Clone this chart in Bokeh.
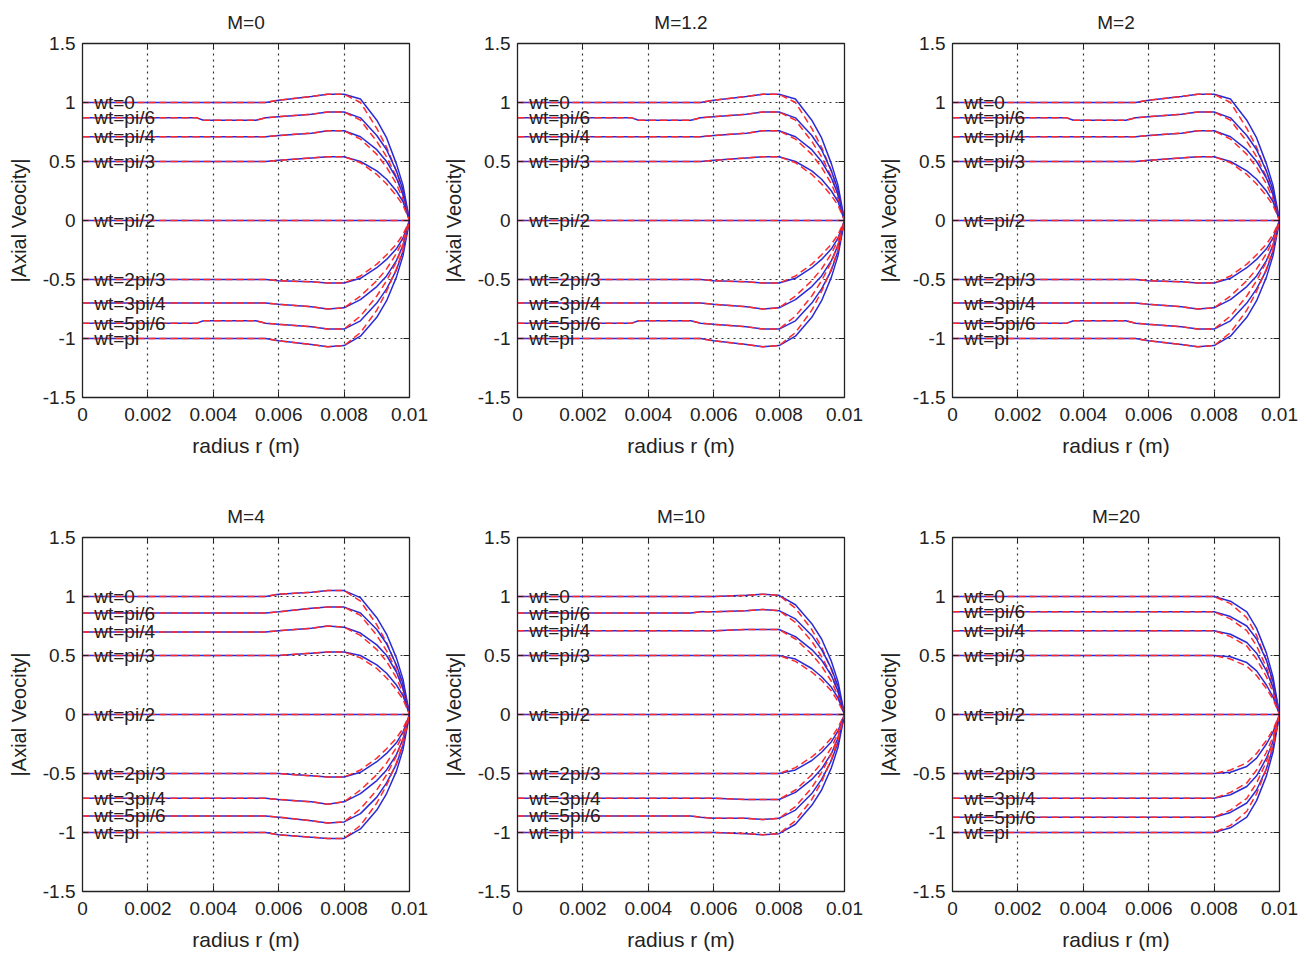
from bokeh.plotting import figure
from bokeh.models import ColumnDataSource, FixedTicker, LinearAxis, Range1d
from bokeh.layouts import column, row
from bokeh.core.properties import value
from bokeh.embed import file_html
from bokeh.resources import INLINE

# ---------------- data ----------------
R = [0, 0.0035, 0.0037, 0.0053, 0.0056, 0.006, 0.007, 0.0075, 0.008,
     0.0085, 0.009, 0.0093, 0.0096, 0.0098, 0.01]
R_TAIL = [0.0085, 0.009, 0.0093, 0.0096, 0.0098]   # where red dashed departs from blue

WT_LABELS = ["wt=0", "wt=pi/6", "wt=pi/4", "wt=pi/3", "wt=pi/2",
             "wt=2pi/3", "wt=3pi/4", "wt=5pi/6", "wt=pi"]
TITLES = ["M=0", "M=1.2", "M=2", "M=4", "M=10", "M=20"]
X_TICKS = [0, 0.002, 0.004, 0.006, 0.008, 0.01]
X_TICK_LABELS = ["0", "0.002", "0.004", "0.006", "0.008", "0.01"]
Y_TICKS = [-1.5, -1, -0.5, 0, 0.5, 1, 1.5]
Y_TICK_LABELS = ["-1.5", "-1", "-0.5", "0", "0.5", "1", "1.5"]

M0_BLUE = [
    [1.00, 1.00, 1.00, 1.00, 1.00, 1.02, 1.05, 1.07, 1.07, 1.03, 0.85, 0.70, 0.48, 0.30, 0.0],
    [0.87, 0.87, 0.85, 0.85, 0.87, 0.88, 0.90, 0.92, 0.92, 0.87, 0.72, 0.60, 0.42, 0.26, 0.0],
    [0.71, 0.71, 0.71, 0.71, 0.71, 0.72, 0.74, 0.76, 0.76, 0.71, 0.60, 0.50, 0.36, 0.22, 0.0],
    [0.50, 0.50, 0.50, 0.50, 0.50, 0.51, 0.53, 0.54, 0.54, 0.50, 0.42, 0.35, 0.25, 0.16, 0.0],
    [0.00, 0.00, 0.00, 0.00, 0.00, 0.00, 0.00, 0.00, 0.00, 0.00, 0.00, 0.00, 0.00, 0.00, 0.0],
    [-0.50, -0.50, -0.50, -0.50, -0.50, -0.51, -0.52, -0.53, -0.53, -0.49, -0.40, -0.33, -0.24, -0.15, 0.0],
    [-0.70, -0.70, -0.70, -0.70, -0.70, -0.71, -0.73, -0.75, -0.74, -0.67, -0.56, -0.47, -0.34, -0.21, 0.0],
    [-0.87, -0.87, -0.85, -0.85, -0.87, -0.88, -0.90, -0.92, -0.92, -0.85, -0.70, -0.58, -0.42, -0.26, 0.0],
    [-1.00, -1.00, -1.00, -1.00, -1.00, -1.02, -1.05, -1.07, -1.06, -0.98, -0.82, -0.68, -0.48, -0.30, 0.0],
]
M0_RED_TAIL = [
    [1.00, 0.78, 0.62, 0.42, 0.25],
    [0.85, 0.67, 0.54, 0.37, 0.22],
    [0.69, 0.56, 0.45, 0.31, 0.18],
    [0.49, 0.39, 0.31, 0.21, 0.13],
    [0.00, 0.00, 0.00, 0.00, 0.00],
    [-0.47, -0.37, -0.29, -0.20, -0.12],
    [-0.64, -0.51, -0.41, -0.28, -0.17],
    [-0.81, -0.64, -0.51, -0.35, -0.21],
    [-0.95, -0.76, -0.60, -0.41, -0.25],
]
# M=1.2 and M=2 read as the same profiles as M=0
M12_BLUE, M12_RED_TAIL = M0_BLUE, M0_RED_TAIL
M2_BLUE, M2_RED_TAIL = M0_BLUE, M0_RED_TAIL

M4_BLUE = [
    [1.00, 1.00, 1.00, 1.00, 1.00, 1.02, 1.035, 1.05, 1.05, 0.99, 0.82, 0.68, 0.48, 0.30, 0.0],
    [0.86, 0.86, 0.86, 0.86, 0.86, 0.87, 0.90, 0.91, 0.91, 0.86, 0.72, 0.60, 0.42, 0.26, 0.0],
    [0.70, 0.70, 0.70, 0.70, 0.70, 0.71, 0.73, 0.75, 0.74, 0.69, 0.59, 0.50, 0.36, 0.22, 0.0],
    [0.50, 0.50, 0.50, 0.50, 0.50, 0.50, 0.52, 0.53, 0.53, 0.50, 0.42, 0.35, 0.25, 0.16, 0.0],
    [0.00, 0.00, 0.00, 0.00, 0.00, 0.00, 0.00, 0.00, 0.00, 0.00, 0.00, 0.00, 0.00, 0.00, 0.0],
    [-0.50, -0.50, -0.50, -0.50, -0.50, -0.50, -0.52, -0.53, -0.53, -0.49, -0.40, -0.33, -0.24, -0.15, 0.0],
    [-0.71, -0.71, -0.71, -0.71, -0.71, -0.72, -0.74, -0.76, -0.74, -0.67, -0.56, -0.47, -0.34, -0.21, 0.0],
    [-0.86, -0.86, -0.86, -0.86, -0.86, -0.87, -0.90, -0.92, -0.91, -0.84, -0.70, -0.58, -0.42, -0.26, 0.0],
    [-1.00, -1.00, -1.00, -1.00, -1.00, -1.02, -1.04, -1.05, -1.05, -0.97, -0.81, -0.67, -0.48, -0.30, 0.0],
]
M4_RED_TAIL = [
    [0.96, 0.76, 0.61, 0.41, 0.25],
    [0.84, 0.67, 0.54, 0.37, 0.22],
    [0.67, 0.55, 0.45, 0.31, 0.18],
    [0.48, 0.39, 0.31, 0.21, 0.13],
    [0.00, 0.00, 0.00, 0.00, 0.00],
    [-0.47, -0.37, -0.29, -0.20, -0.12],
    [-0.64, -0.51, -0.41, -0.28, -0.17],
    [-0.80, -0.64, -0.51, -0.35, -0.21],
    [-0.94, -0.75, -0.60, -0.41, -0.25],
]
M10_BLUE = [
    [1.00, 1.00, 1.00, 1.00, 1.00, 1.00, 1.01, 1.02, 1.01, 0.93, 0.77, 0.64, 0.45, 0.28, 0.0],
    [0.86, 0.86, 0.86, 0.86, 0.87, 0.87, 0.88, 0.89, 0.88, 0.81, 0.67, 0.55, 0.39, 0.24, 0.0],
    [0.71, 0.71, 0.71, 0.71, 0.71, 0.71, 0.72, 0.72, 0.72, 0.66, 0.55, 0.46, 0.33, 0.20, 0.0],
    [0.50, 0.50, 0.50, 0.50, 0.50, 0.50, 0.50, 0.50, 0.50, 0.47, 0.39, 0.32, 0.23, 0.14, 0.0],
    [0.00, 0.00, 0.00, 0.00, 0.00, 0.00, 0.00, 0.00, 0.00, 0.00, 0.00, 0.00, 0.00, 0.00, 0.0],
    [-0.50, -0.50, -0.50, -0.50, -0.50, -0.50, -0.50, -0.50, -0.50, -0.47, -0.39, -0.32, -0.23, -0.14, 0.0],
    [-0.71, -0.71, -0.71, -0.71, -0.71, -0.71, -0.72, -0.72, -0.72, -0.66, -0.55, -0.46, -0.33, -0.20, 0.0],
    [-0.86, -0.86, -0.86, -0.86, -0.87, -0.88, -0.88, -0.89, -0.88, -0.81, -0.67, -0.55, -0.39, -0.24, 0.0],
    [-1.00, -1.00, -1.00, -1.00, -1.00, -1.00, -1.01, -1.02, -1.01, -0.93, -0.77, -0.64, -0.45, -0.28, 0.0],
]
M10_RED_TAIL = [
    [0.90, 0.72, 0.57, 0.38, 0.22],
    [0.78, 0.62, 0.49, 0.33, 0.19],
    [0.64, 0.51, 0.41, 0.28, 0.16],
    [0.45, 0.36, 0.29, 0.20, 0.11],
    [0.00, 0.00, 0.00, 0.00, 0.00],
    [-0.45, -0.36, -0.29, -0.20, -0.11],
    [-0.64, -0.51, -0.41, -0.28, -0.16],
    [-0.78, -0.62, -0.49, -0.33, -0.19],
    [-0.90, -0.72, -0.57, -0.38, -0.22],
]
M20_BLUE = [
    [1.00, 1.00, 1.00, 1.00, 1.00, 1.00, 1.00, 1.00, 1.00, 0.96, 0.87, 0.73, 0.52, 0.32, 0.0],
    [0.87, 0.87, 0.87, 0.87, 0.87, 0.87, 0.87, 0.87, 0.87, 0.83, 0.75, 0.64, 0.46, 0.28, 0.0],
    [0.71, 0.71, 0.71, 0.71, 0.71, 0.71, 0.71, 0.71, 0.71, 0.68, 0.61, 0.52, 0.37, 0.23, 0.0],
    [0.50, 0.50, 0.50, 0.50, 0.50, 0.50, 0.50, 0.50, 0.50, 0.49, 0.44, 0.37, 0.25, 0.15, 0.0],
    [0.00, 0.00, 0.00, 0.00, 0.00, 0.00, 0.00, 0.00, 0.00, 0.00, 0.00, 0.00, 0.00, 0.00, 0.0],
    [-0.50, -0.50, -0.50, -0.50, -0.50, -0.50, -0.50, -0.50, -0.50, -0.49, -0.44, -0.37, -0.25, -0.15, 0.0],
    [-0.71, -0.71, -0.71, -0.71, -0.71, -0.71, -0.71, -0.71, -0.71, -0.68, -0.61, -0.52, -0.37, -0.23, 0.0],
    [-0.87, -0.87, -0.87, -0.87, -0.87, -0.87, -0.87, -0.87, -0.87, -0.83, -0.75, -0.64, -0.46, -0.28, 0.0],
    [-1.00, -1.00, -1.00, -1.00, -1.00, -1.00, -1.00, -1.00, -1.00, -0.96, -0.87, -0.73, -0.52, -0.32, 0.0],
]
M20_RED_TAIL = [
    [0.94, 0.82, 0.67, 0.46, 0.27],
    [0.81, 0.71, 0.58, 0.40, 0.23],
    [0.66, 0.58, 0.47, 0.32, 0.19],
    [0.47, 0.41, 0.33, 0.22, 0.13],
    [0.00, 0.00, 0.00, 0.00, 0.00],
    [-0.47, -0.41, -0.33, -0.22, -0.13],
    [-0.66, -0.58, -0.47, -0.32, -0.19],
    [-0.81, -0.71, -0.58, -0.40, -0.23],
    [-0.94, -0.82, -0.67, -0.46, -0.27],
]

PANELS = [
    (M0_BLUE, M0_RED_TAIL), (M12_BLUE, M12_RED_TAIL), (M2_BLUE, M2_RED_TAIL),
    (M4_BLUE, M4_RED_TAIL), (M10_BLUE, M10_RED_TAIL), (M20_BLUE, M20_RED_TAIL),
]

# ---------------- styling ----------------
FONT = "Liberation Sans"
TXT = "#222222"
BLUE = "#2a2ad6"
RED = "#ff2b2b"
LABEL_R = 0.00036
FRAME_W, FRAME_H = 327, 354
COL_W = [435, 435, 436]
ROW_H = [494, 465]
BORDER_L, BORDER_T = 82, 43


def make_panel(idx):
    ci, ri = idx % 3, idx // 3
    w, h = COL_W[ci], ROW_H[ri]
    p = figure(width=w, height=h, output_backend="svg", toolbar_location=None,
               x_range=Range1d(0, 0.01), y_range=Range1d(-1.5, 1.5),
               min_border_left=BORDER_L, min_border_right=w - BORDER_L - FRAME_W,
               min_border_top=BORDER_T, min_border_bottom=h - BORDER_T - FRAME_H,
               background_fill_color="white", border_fill_color="white")
    p.outline_line_color = "#222222"
    p.outline_line_width = 1.3

    p.title.text = TITLES[idx]
    p.title.align = "center"
    p.title.vertical_align = "top"
    p.title.text_font = FONT
    p.title.text_font_size = "19px"
    p.title.text_font_style = "normal"
    p.title.text_color = TXT
    p.title.standoff = 17

    xo = {t: l for t, l in zip(X_TICKS, X_TICK_LABELS)}
    yo = {t: l for t, l in zip(Y_TICKS, Y_TICK_LABELS)}
    for ax, ticks, ov in ((p.xaxis[0], X_TICKS, xo), (p.yaxis[0], Y_TICKS, yo)):
        ax.ticker = FixedTicker(ticks=ticks)
        ax.major_label_overrides = ov
        ax.major_label_text_font = FONT
        ax.major_label_text_font_size = "19px"
        ax.major_label_text_color = TXT
        ax.axis_label_text_font = FONT
        ax.axis_label_text_font_style = "normal"
        ax.axis_label_text_color = TXT
        ax.major_tick_in = 6
        ax.major_tick_out = 0
        ax.minor_tick_line_color = None
        ax.axis_line_color = "#222222"
        ax.major_tick_line_color = "#222222"
    p.xaxis[0].axis_label = "radius r (m)"
    p.xaxis[0].axis_label_text_font_size = "21px"
    p.xaxis[0].major_label_standoff = 10
    p.xaxis[0].axis_label_standoff = 10
    p.yaxis[0].axis_label = "|Axial Veocity|"
    p.yaxis[0].axis_label_text_font_size = "20px"
    p.yaxis[0].major_label_standoff = 7
    p.yaxis[0].axis_label_standoff = 10

    # tick marks on top and right sides (box), no labels
    for loc, ticks in (("above", X_TICKS), ("right", Y_TICKS)):
        a = LinearAxis(ticker=FixedTicker(ticks=ticks), major_tick_in=6, major_tick_out=0,
                       minor_tick_line_color=None, major_label_text_font_size="1px",
                       major_label_text_color=None,
                       major_label_standoff=0, axis_line_color="#222222",
                       major_tick_line_color="#222222")
        p.add_layout(a, loc)

    for g in (p.xgrid[0], p.ygrid[0]):
        g.grid_line_color = "#333333"
        g.grid_line_dash = "2 4"
        g.grid_line_width = 1.2

    blue_set, red_tail_set = PANELS[idx]
    for blue, tail in zip(blue_set, red_tail_set):
        red = blue[:9] + tail + blue[14:]
        p.line(R, blue, line_color=BLUE, line_width=1.5)
        p.line(R, red, line_color=RED, line_width=1.5, line_dash="7 4")

    src = ColumnDataSource(dict(x=[LABEL_R] * len(WT_LABELS),
                                y=[b[0] for b in blue_set], t=WT_LABELS))
    p.text(x="x", y="y", text="t", source=src, text_font=value(FONT),
           text_font_size="19px", text_baseline="middle", text_align="left",
           text_color=TXT)
    return p


panels = [make_panel(i) for i in range(6)]
layout = column(row(*panels[:3]), row(*panels[3:]))
open("out.html", "w").write(file_html(layout, INLINE))
